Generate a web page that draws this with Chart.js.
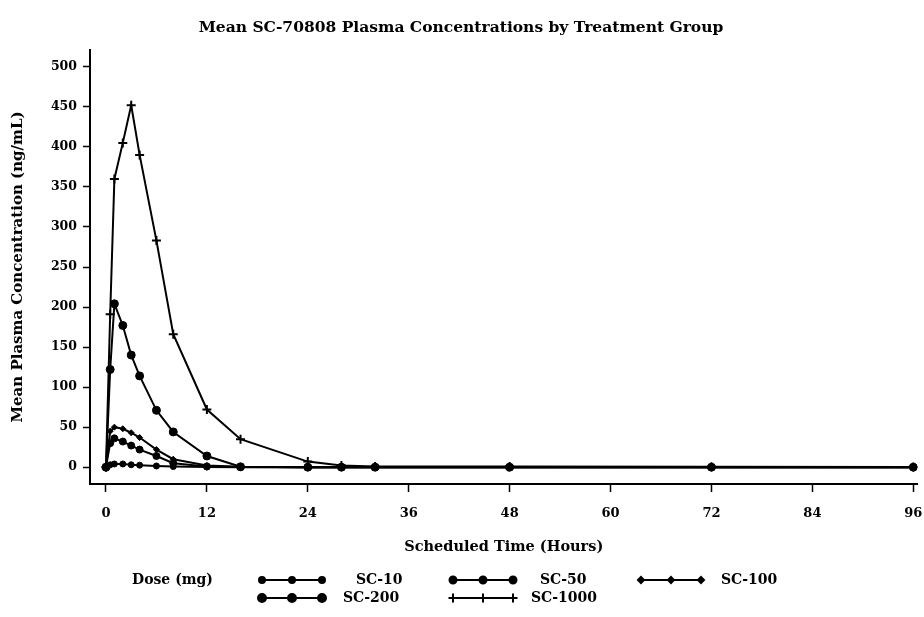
<!DOCTYPE html>
<html>
<head>
<meta charset="utf-8">
<script src="https://cdn.jsdelivr.net/npm/chart.js@4.4.1/dist/chart.umd.min.js"></script>
<style>
  html, body { margin: 0; padding: 0; background: #fff; }
  #wrap { width: 924px; height: 617px; }
</style>
</head>
<body>
<div id="wrap"><canvas id="pk"></canvas></div>
<script>
// scheduled sampling times (hours)
const hours = [0, 0.5, 1, 2, 3, 4, 6, 8, 12, 16, 24, 28, 32, 48, 72, 96]

// mean plasma concentration (ng/mL) per dose group
const sc10   = [0, 3, 4, 4, 3, 2.5, 1.5, 0.8, 0.2, 0, 0, 0, 0, 0, 0, 0]
const sc50   = [0, 30, 36, 32, 27, 22, 14, 5, 1, 0.2, 0, 0, 0, 0, 0, 0]
const sc100  = [0, 45, 50, 48, 43, 37, 22, 10, 2, 0.5, 0, 0, 0, 0, 0, 0]
const sc200  = [0, 122, 204, 177, 140, 114, 71, 44, 14, 0.5, 0, 0, 0, 0, 0, 0]
const sc1000 = [0, 191, 360, 405, 452, 390, 283, 166, 72, 35, 7, 2, 1, 0.8, 0.4, 0.2]

const groups = ['SC-10', 'SC-50', 'SC-100', 'SC-200', 'SC-1000']
const xTicks = [0, 12, 24, 36, 48, 60, 72, 84, 96]
const yTicks = [0, 50, 100, 150, 200, 250, 300, 350, 400, 450, 500]

const FONT = 'DejaVu Serif'
const ink = '#000'

const pts = (ys) => hours.map((h, i) => ({ x: h, y: ys[i] }))

const mk = (label, ys, style, r) => ({
  label,
  data: pts(ys),
  borderColor: ink,
  backgroundColor: ink,
  borderWidth: 2,
  pointStyle: style,
  pointRadius: r,
  pointBorderWidth: style === 'cross' ? 2 : 1,
  pointBackgroundColor: ink,
  pointBorderColor: ink,
  tension: 0
})

// legend along the bottom: "Dose (mg)" followed by two rows of samples
const doseLegend = {
  id: 'doseLegend',
  afterDraw(chart) {
    const ctx = chart.ctx
    const slots = [
      { sx: 262, lx: 356, y: 580 },
      { sx: 453, lx: 540, y: 580 },
      { sx: 641, lx: 721, y: 580 },
      { sx: 262, lx: 343, y: 598 },
      { sx: 453, lx: 531, y: 598 }
    ]
    ctx.save()
    ctx.fillStyle = ink
    ctx.strokeStyle = ink
    ctx.font = 'bold 14px "' + FONT + '"'
    ctx.textBaseline = 'middle'
    ctx.textAlign = 'left'
    ctx.fillText('Dose (mg)', 132, 580)
    chart.data.datasets.forEach((ds, i) => {
      const s = slots[i]
      ctx.lineWidth = 2
      ctx.beginPath()
      ctx.moveTo(s.sx, s.y)
      ctx.lineTo(s.sx + 60, s.y)
      ctx.stroke()
      ;[0, 30, 60].forEach(dx => {
        Chart.helpers.drawPoint(ctx, {
          pointStyle: ds.pointStyle,
          radius: ds.pointRadius,
          borderWidth: ds.pointBorderWidth,
          rotation: 0
        }, s.sx + dx, s.y)
      })
      ctx.fillText(ds.label, s.lx, s.y)
    })
    ctx.restore()
  }
}

new Chart(document.getElementById('pk'), {
  type: 'line',
  data: {
    datasets: [
      mk(groups[0], sc10, 'circle', 3),
      mk(groups[1], sc50, 'circle', 3.5),
      mk(groups[2], sc100, 'rectRot', 3),
      mk(groups[3], sc200, 'circle', 4),
      mk(groups[4], sc1000, 'cross', 4.5)
    ]
  },
  options: {
    responsive: true,
    maintainAspectRatio: false,
    animation: false,
    layout: { padding: { left: 0, right: 2, top: 0, bottom: 57 } },
    plugins: {
      legend: { display: false },
      tooltip: { enabled: false },
      title: {
        display: true,
        text: 'Mean SC-70808 Plasma Concentrations by Treatment Group',
        color: ink,
        font: { family: FONT, size: 15.5, weight: 'bold' },
        padding: { top: 19, bottom: 12.4 }
      }
    },
    scales: {
      x: {
        type: 'linear',
        min: -1.9,
        max: 96.5,
        afterBuildTicks: (s) => { s.ticks = xTicks.map(v => ({ value: v })) },
        afterFit: (s) => { s.height = 76; s.paddingLeft = 0; s.paddingRight = 0 },
        grid: { drawOnChartArea: false, drawTicks: true, tickLength: 8, tickColor: ink, tickWidth: 1.5 },
        border: { display: true, color: ink, width: 2 },
        ticks: { color: ink, padding: 14, maxRotation: 0, font: { family: FONT, size: 13, weight: 'bold' } },
        title: {
          display: true,
          text: 'Scheduled Time (Hours)',
          color: ink,
          font: { family: FONT, size: 14.5, weight: 'bold' },
          padding: { top: 4, bottom: 4 }
        }
      },
      y: {
        min: -21,
        max: 521,
        afterBuildTicks: (s) => { s.ticks = yTicks.map(v => ({ value: v })) },
        afterFit: (s) => { s.width = 90 },
        grid: { drawOnChartArea: false, drawTicks: true, tickLength: 7, tickColor: ink, tickWidth: 1.5 },
        border: { display: true, color: ink, width: 2 },
        ticks: { color: ink, padding: 6, font: { family: FONT, size: 12.5, weight: 'bold' } },
        title: {
          display: true,
          text: 'Mean Plasma Concentration (ng/mL)',
          color: ink,
          font: { family: FONT, size: 15, weight: 'bold' },
          padding: { top: 9, bottom: 0 }
        }
      }
    }
  },
  plugins: [doseLegend]
})
</script>
</body>
</html>
